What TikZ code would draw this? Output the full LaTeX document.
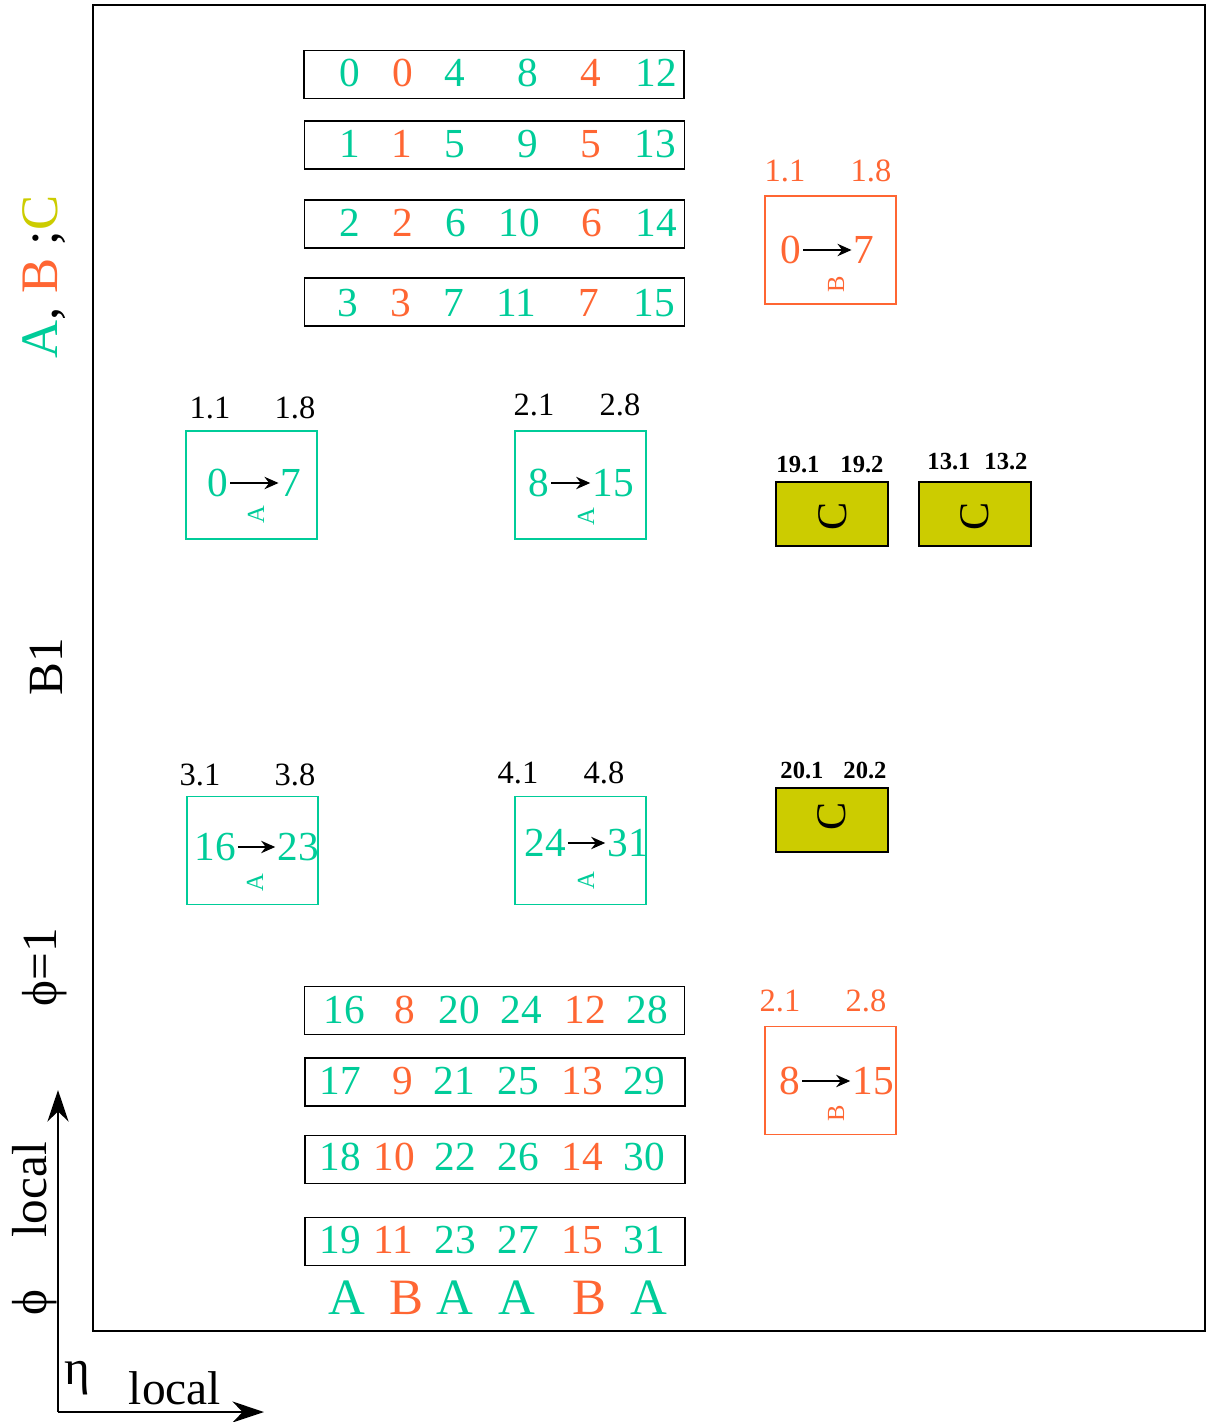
\documentclass[tikz,border=0pt]{standalone}
\usepackage{fontspec}
\setmainfont{Liberation Serif}
\usetikzlibrary{arrows.meta}
\definecolor{gr}{HTML}{00CC99}
\definecolor{orn}{HTML}{FF6633}
\definecolor{yel}{HTML}{CCCC00}
\newcommand{\fs}[1]{\fontsize{#1}{#1}\selectfont}
\tikzset{
  rowbox/.style={draw=black, line width=1pt, minimum width=7.6cm, minimum height=0.96cm, inner sep=0pt},
  gbox/.style={draw=gr, line width=1pt, minimum width=2.62cm, minimum height=2.16cm, inner sep=0pt},
  obox/.style={draw=orn, line width=1pt, minimum width=2.62cm, minimum height=2.16cm, inner sep=0pt},
  ybox/.style={draw=black, fill=yel, line width=1pt, minimum width=2.24cm, minimum height=1.28cm, inner sep=0pt},
  num/.style={font=\fs{23.5}, inner sep=1pt},
  gn/.style={num, text=gr},
  on/.style={num, text=orn},
  lab/.style={font=\fs{18.5}, inner sep=0pt},
  blab/.style={font=\fs{14}\bfseries, inner sep=0pt},
  tiny/.style={font=\fs{14}, rotate=90, inner sep=0pt},
  big/.style={font=\fs{29}, inner sep=0pt},
  arr/.style={-{Stealth[length=8pt,width=7pt]}, line width=1.2pt, black},
  axis/.style={-{Stealth[length=18pt,width=12pt]}, line width=1.1pt, black},
}
\begin{document}
\begin{tikzpicture}[x=0.02cm, y=-0.02cm]
\useasboundingbox (0,0) rectangle (1207,1422);
\node[draw, line width=1.1pt, minimum width=22.24cm, minimum height=26.52cm, inner sep=0pt] (frame) at (649,668) {};

% top rows
\node[rowbox] (r1) at (494,74.5) {};
\node[rowbox] (r2) at (494.5,145) {};
\node[rowbox] (r3) at (494.5,224) {};
\node[rowbox] (r4) at (494.5,302) {};
\foreach \x/\t/\c [count=\i] in {350/0/gr,403/0/orn,455/4/gr,528/8/gr,591/4/orn,656/12/gr}
  \node[num, text=\c] (a\i) at (\x,73) {\t};
\foreach \x/\t/\c [count=\i] in {350/1/gr,402/1/orn,455/5/gr,528/9/gr,591/5/orn,655/13/gr}
  \node[num, text=\c] (b\i) at (\x,144) {\t};
\foreach \x/\t/\c [count=\i] in {350/2/gr,403/2/orn,456/6/gr,519/10/gr,592/6/orn,656/14/gr}
  \node[num, text=\c] (c\i) at (\x,223) {\t};
\foreach \x/\t/\c [count=\i] in {348/3/gr,401/3/orn,454/7/gr,516/11/gr,589/7/orn,654/15/gr}
  \node[num, text=\c] (d\i) at (\x,303) {\t};

% bottom rows
\node[rowbox] (r5) at (494.5,1010.5) {};
\node[rowbox] (r6) at (495,1082) {};
\node[rowbox] (r7) at (495,1159.5) {};
\node[rowbox] (r8) at (495,1241.5) {};
\foreach \x/\t/\c [count=\i] in {344/16/gr,405/8/orn,459/20/gr,521/24/gr,585/12/orn,647/28/gr}
  \node[num, text=\c] (e\i) at (\x,1010) {\t};
\foreach \x/\t/\c [count=\i] in {340/17/gr,403/9/orn,454/21/gr,518/25/gr,582/13/orn,644/29/gr}
  \node[num, text=\c] (f\i) at (\x,1081) {\t};
\foreach \x/\t/\c [count=\i] in {340/18/gr,394/10/orn,455/22/gr,518/26/gr,582/14/orn,644/30/gr}
  \node[num, text=\c] (g\i) at (\x,1157) {\t};
\foreach \x/\t/\c [count=\i] in {340/19/gr,393/11/orn,455/23/gr,518/27/gr,582/15/orn,644/31/gr}
  \node[num, text=\c] (h\i) at (\x,1240) {\t};
\foreach \x/\t/\c [count=\i] in {347/A/gr,406/B/orn,455/A/gr,517/A/gr,589/B/orn,649/A/gr}
  \node[big, text=\c] (L\i) at (\x,1298) {\t};

% green boxes
\node[gbox] (G1) at (251.5,485) {};
\node[lab] at (210,408) {1.1}; \node[lab] at (295,408) {1.8};
\node[gn] (G1a) at (218,483) {0}; \node[gn] (G1b) at (291,483) {7};
\draw[arr] (G1a.east) -- (G1b.west);
\node[tiny, text=gr] at (256,515) {A};

\node[gbox] (G2) at (580.5,485) {};
\node[lab] at (534,405) {2.1}; \node[lab] at (620,405) {2.8};
\node[gn] (G2a) at (539,483) {8}; \node[gn] (G2b) at (613,483) {15};
\draw[arr] (G2a.east) -- (G2b.west);
\node[tiny, text=gr] at (586,517) {A};

\node[gbox] (G3) at (252.5,850.5) {};
\node[lab] at (200,775) {3.1}; \node[lab] at (295,775) {3.8};
\node[gn] (G3a) at (215,847) {16}; \node[gn] (G3b) at (298,847) {23};
\draw[arr] (G3a.east) -- (G3b.west);
\node[tiny, text=gr] at (255,883) {A};

\node[gbox] (G4) at (580.5,850.5) {};
\node[lab] at (518,773) {4.1}; \node[lab] at (604,773) {4.8};
\node[gn] (G4a) at (545,843) {24}; \node[gn] (G4b) at (628,843) {31};
\draw[arr] (G4a.east) -- (G4b.west);
\node[tiny, text=gr] at (586,881) {A};

% orange boxes
\node[obox] (O1) at (830.5,250) {};
\node[lab, text=orn] at (785,171) {1.1}; \node[lab, text=orn] at (871,171) {1.8};
\node[on] (O1a) at (791,250) {0}; \node[on] (O1b) at (864,250) {7};
\draw[arr] (O1a.east) -- (O1b.west);
\node[tiny, text=orn] at (836,284) {B};

\node[obox] (O2) at (830.5,1080.5) {};
\node[lab, text=orn] at (780,1001) {2.1}; \node[lab, text=orn] at (866,1001) {2.8};
\node[on] (O2a) at (790,1081) {8}; \node[on] (O2b) at (873,1081) {15};
\draw[arr] (O2a.east) -- (O2b.west);
\node[tiny, text=orn] at (836,1113) {B};

% yellow boxes
\node[ybox] (Y1) at (832,514) {};
\node[blab] at (798,465) {19.1}; \node[blab] at (862,465) {19.2};
\node[font=\fs{24}, rotate=90, inner sep=0pt] at (833,516) {C};
\node[ybox] (Y2) at (975,514) {};
\node[blab] at (949,462) {13.1}; \node[blab] at (1006,462) {13.2};
\node[font=\fs{24}, rotate=90, inner sep=0pt] at (975,516) {C};
\node[ybox] (Y3) at (832,820) {};
\node[blab] at (802,770) {20.1}; \node[blab] at (865,770) {20.2};
\node[font=\fs{24}, rotate=90, inner sep=0pt] at (832,816) {C};

% left labels
\node[font=\fs{30}, rotate=90, inner sep=0pt] (abc) at (44,277) {\textcolor{gr}{A}, \textcolor{orn}{B} ;\textcolor{yel}{C}};
\node[font=\fs{28}, rotate=90, inner sep=0pt] (b1) at (46,667) {B1};
\node[font=\fs{28}, rotate=90, inner sep=0pt] (phi1) at (45,967) {ϕ=1};

% axes
\coordinate (O) at (58,1412);
\coordinate (Ytop) at (58,1090);
\coordinate (Xend) at (264,1412);
\draw[axis] (O) -- (Ytop);
\draw[axis] (O) -- (Xend);
\node[font=\fs{28}, rotate=90, inner sep=0pt] (yl) at (30,1190) {local};
\node[font=\fs{28}, rotate=90, inner sep=0pt] (yphi) at (35,1303) {ϕ};
\node[font=\fs{28}, inner sep=0pt] (eta) at (77,1378) {η};
\node[font=\fs{27}, inner sep=0pt] (xl) at (175,1388) {local};
\end{tikzpicture}
\end{document}
